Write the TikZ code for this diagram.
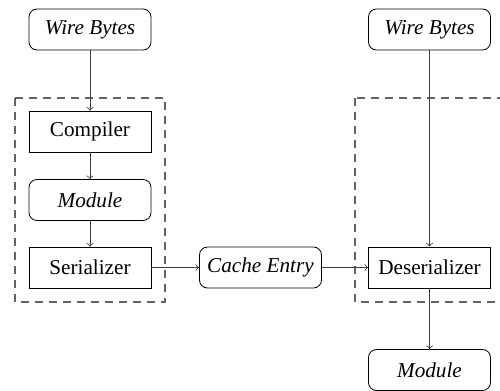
\documentclass[tikz,border=0pt]{standalone}
\usepackage{fontspec}
\setmainfont{Liberation Serif}
\usepackage{tikz}
\usetikzlibrary{shapes,arrows,positioning,fit,calc}
\definecolor{wirelinegray}{RGB}{60,60,60}
\definecolor{groupgray}{RGB}{100,100,100}
\tikzset{
    stage/.style={rectangle, draw, minimum width=61pt, minimum height=20.5pt, inner sep=2pt, font=\fontsize{10.6}{13}\selectfont},
    artifact/.style={rectangle, draw, rounded corners=4pt, minimum width=61pt, minimum height=20.5pt, inner sep=2pt, font=\fontsize{10.6}{13}\selectfont\itshape},
    line/.style={draw=wirelinegray, ->},
    group/.style={draw=groupgray, dashed, dash pattern=on 4pt off 3pt, semithick}
}
\begin{document}
\begin{tikzpicture}[x=0.5pt, y=-0.5pt]
    \clip (0,0) rectangle (500,391);

    % Groups
    \draw [group] (15,98) rectangle (165,302);
    \draw [group] (355,98) rectangle (520,302);

    % Compile side
    \node [artifact] (wireA) at (90,29.5) {Wire Bytes};
    \node [stage] (compiler) at (90,131.5) {Compiler};
    \node [artifact] (moduleA) at (90,200) {Module};
    \node [stage] (serializer) at (90,267.5) {Serializer};

    % Cache
    \node [artifact] (cache) at (260.5,267.5) {Cache Entry};

    % Load side
    \node [artifact] (wireB) at (429.5,29.5) {Wire Bytes};
    \node [stage] (deserializer) at (429.5,267.5) {Deserializer};
    \node [artifact] (moduleB) at (429.5,370) {Module};

    % Connections
    \path [line] (wireA) -- (compiler);
    \path [line] (compiler) -- (moduleA);
    \path [line] (moduleA) -- (serializer);
    \path [line] (serializer) -- (cache);
    \path [line] (cache) -- (deserializer);
    \path [line] (wireB) -- (deserializer);
    \path [line] (deserializer) -- (moduleB);
\end{tikzpicture}
\end{document}
